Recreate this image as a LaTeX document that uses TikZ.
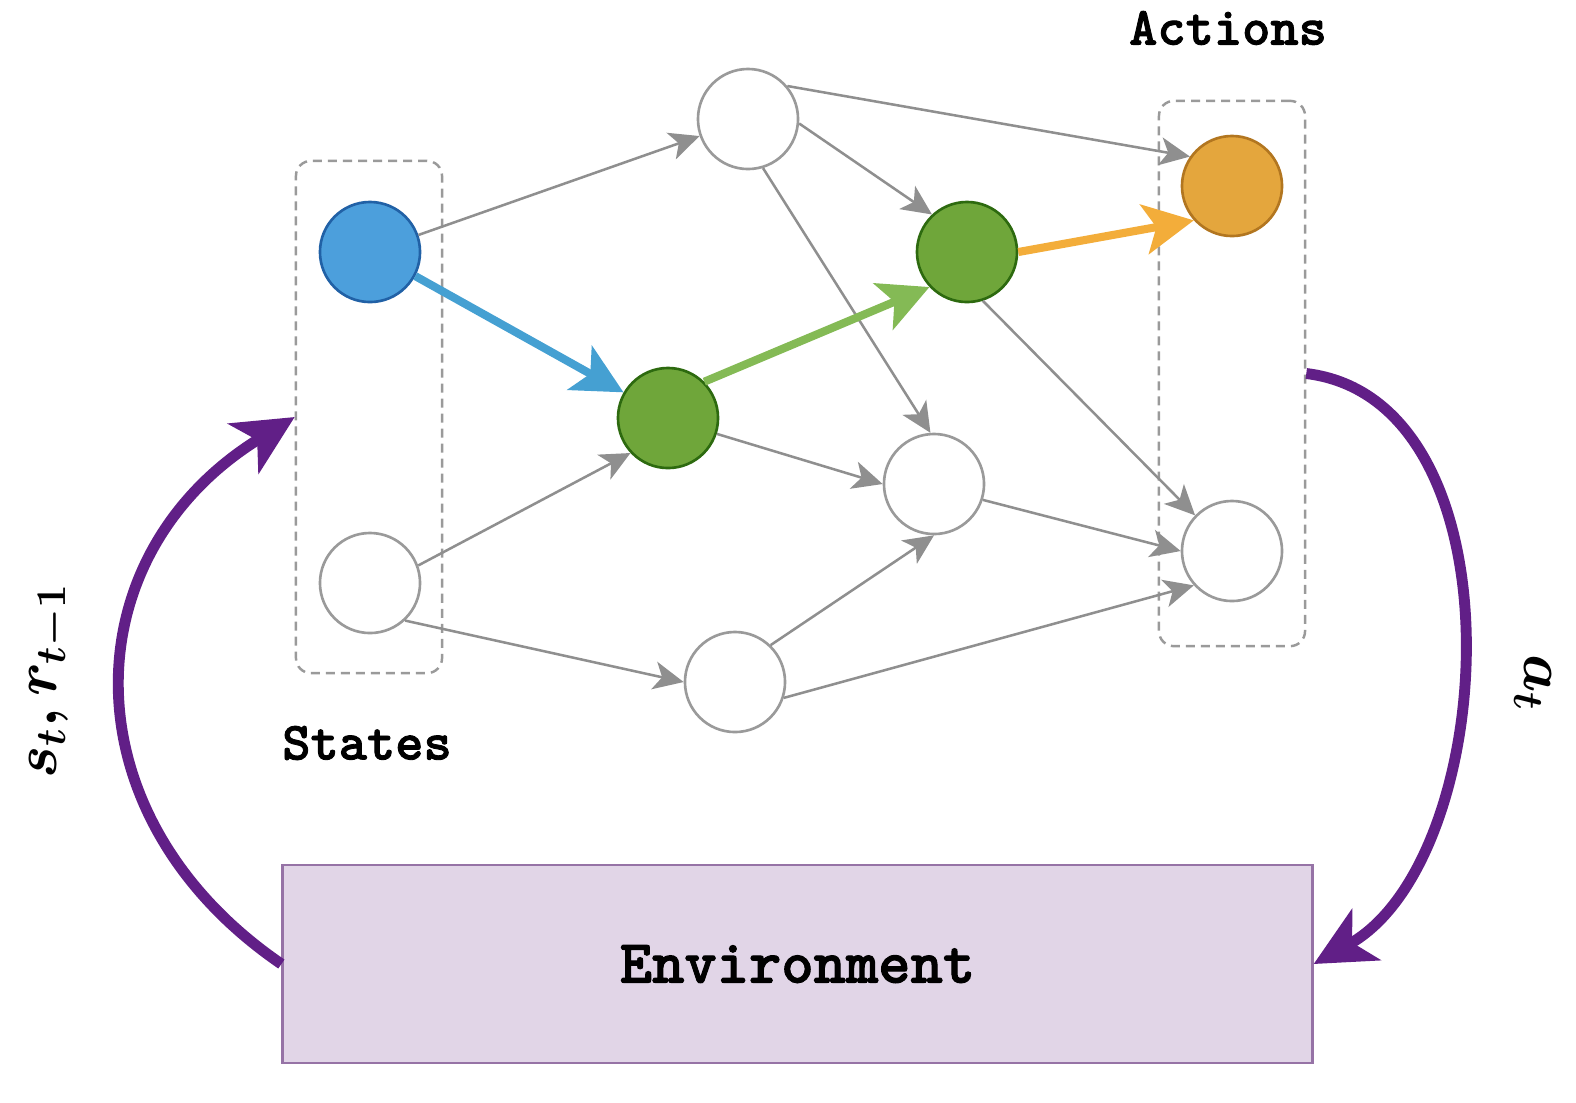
\documentclass[tikz,border=0pt]{standalone}
\usepackage{fontspec}
\newfontfamily\courb{lmmonolt10-bold.otf}[FakeBold=1.6]
\usetikzlibrary{arrows.meta}
\definecolor{blueF}{HTML}{4C9FDC}
\definecolor{blueS}{HTML}{2161A6}
\definecolor{greenF}{HTML}{6FA63A}
\definecolor{greenS}{HTML}{2D6A0F}
\definecolor{orangeF}{HTML}{E4A63D}
\definecolor{orangeS}{HTML}{B27620}
\definecolor{blueA}{HTML}{45A0D2}
\definecolor{greenA}{HTML}{84BA55}
\definecolor{orangeA}{HTML}{F3AD3A}
\definecolor{purpleA}{HTML}{611F87}
\definecolor{envF}{HTML}{E1D5E7}
\definecolor{envS}{HTML}{9673A6}
\definecolor{grayL}{HTML}{8F8F8F}
\definecolor{grayC}{HTML}{9A9A9A}
\begin{document}
\begin{tikzpicture}[x=0.01cm,y=-0.01cm,
  neuron/.style={circle,minimum size=1cm,inner sep=0pt,line width=0.75pt,draw=grayC,fill=white},
  bluen/.style={neuron,draw=blueS,fill=blueF},
  greenn/.style={neuron,draw=greenS,fill=greenF},
  orangen/.style={neuron,draw=orangeS,fill=orangeF},
  dashbox/.style={draw=grayC,line width=0.7pt,dash pattern=on 0.09cm off 0.06cm,rounded corners=0.15cm,inner sep=0pt},
  gline/.style={draw=grayL,line width=0.72pt,-{Stealth[length=0.3cm,width=0.28cm,inset=0.08cm]}},
  cline/.style={line width=2.3pt,-{Stealth[length=0.5cm,width=0.5cm,inset=0.12cm]}},
  pline/.style={draw=purpleA,line width=3.1pt,-{Stealth[length=0.6cm,width=0.58cm,inset=0.16cm]}},
  lbl/.style={font=\courb\fontsize{15.3pt}{18pt}\selectfont},
  mlbl/.style={font=\fontsize{16.5pt}{20pt}\selectfont\boldmath}
]
\useasboundingbox (0,0) rectangle (1576,1102);

% dashed groups
\node[dashbox,minimum width=1.46cm,minimum height=5.12cm] (sbox) at (369,417) {};
\node[dashbox,minimum width=1.46cm,minimum height=5.45cm] (abox) at (1232,373.5) {};

% environment
\node[draw=envS,fill=envF,line width=0.75pt,minimum width=10.29cm,minimum height=1.98cm,inner sep=0pt,
      font=\courb\fontsize{17.5pt}{20pt}\selectfont] (env) at (797.5,964) {Environment};

% neurons
\node[bluen] (blue) at (370,252) {};
\node[neuron] (bl) at (370,583) {};
\node[neuron] (top) at (748,119) {};
\node[greenn] (g1) at (668,418) {};
\node[neuron] (bm) at (735,682) {};
\node[greenn] (g2) at (967,252) {};
\node[neuron] (mr) at (934,484) {};
\node[orangen] (orange) at (1232,186) {};
\node[neuron] (rb) at (1232,551) {};

% gray connectors
\draw[gline] (blue) -- (top);
\draw[gline] (top.40) -- (orange.145);
\draw[gline] (top.355) -- (g2.133);
\draw[gline] (top.287) -- (mr.94);
\draw[gline] (bl.20) -- (g1.223);
\draw[gline] (bl.313) -- (bm.west);
\draw[gline] (g1.342) -- (mr.west);
\draw[gline] (bm.46) -- (mr.south);
\draw[gline] (bm.342) -- (rb.222);
\draw[gline] (mr.342) -- (rb.west);
\draw[gline] (g2.288) -- (rb.136);

% coloured path
\draw[cline,draw=blueA,fill=blueA] (blue.332) -- (g1.150);
\draw[cline,draw=greenA,fill=greenA] (g1.45) -- (g2.223);
\draw[cline,draw=orangeA,fill=orangeA] (g2.east) -- (orange.222);

% loop arrows
\draw[pline] (env.west) .. controls (65,816) and (70,555) .. (sbox.west);
\draw[pline] (abox.east) .. controls (1525,400) and (1500,860) .. (env.east);

% labels
\node[lbl] (actlbl) at (1228,28) {Actions};
\node[lbl] (stlbl) at (367,743) {States};
\node[mlbl,rotate=90] (slbl) at (50,681) {$s_t, r_{t-1}$};
\node[mlbl,rotate=-90] (albl) at (1533,683) {$a_t$};
\end{tikzpicture}
\end{document}
